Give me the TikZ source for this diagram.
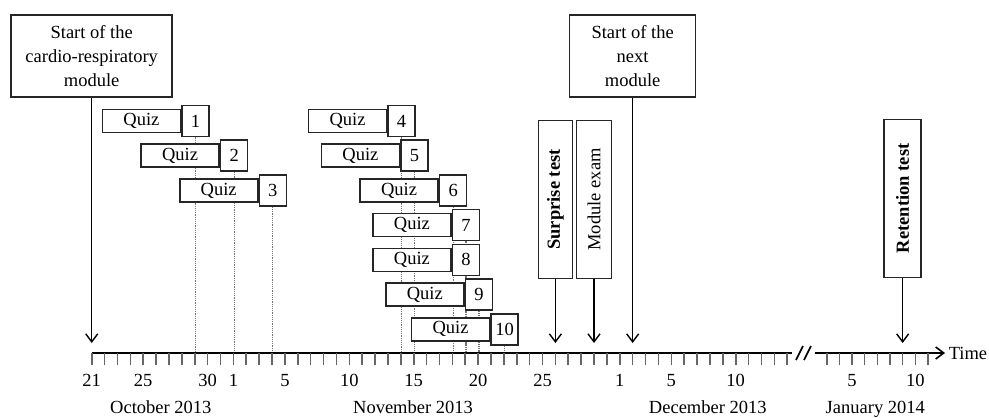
\documentclass[tikz,border=0pt]{standalone}
\usepackage{fontspec}
\setmainfont{Liberation Serif}
\usetikzlibrary{arrows.meta,backgrounds,positioning}
\def\dayx#1{(91.7+12.88*(#1))}
\def\janx#1{(826.7+12.66*(#1-3))}
\tikzset{
	axisline/.style={line width=1.6pt, color=black},
	tickline/.style={line width=1.6pt, color=black!60},
	quizline/.style={line width=1.2pt, color=black!55, densely dotted},
	eventarrow/.style={line width=1.4pt, -{Straight Barb[length=8pt,width=12pt]}},
	bigbox/.style={draw=black!85, line width=1.6pt, fill=white, align=center, inner sep=0pt, minimum height=82pt, font=\fontsize{18.5}{24}\selectfont},
	testbox/.style={draw=black!85, line width=1.6pt, fill=white, rotate=90, inner sep=0pt, minimum width=158pt, minimum height=34pt},
	quizbox/.style={draw=black!85, line width=1.6pt, fill=white, inner sep=0pt, minimum width=78pt, minimum height=23pt, font=\fontsize{18.5}{22}\selectfont},
	numbox/.style={draw=black!85, line width=1.6pt, fill=white, inner sep=0pt, minimum width=27pt, minimum height=31pt, font=\fontsize{18.5}{22}\selectfont},
	daylabel/.style={anchor=base, inner sep=0pt, font=\fontsize{18.5}{22}\selectfont},
}
\begin{document}
\begin{tikzpicture}[x=1pt, y=-1pt]
		%%%%% START %%%%%
		\useasboundingbox (0,0) rectangle (989,418);
		
		% time axis
		\coordinate (axis) at (91.7,353);
		\coordinate (tip) at (91.7,343);
		\draw[axisline] (axis) -- (791.7,353);
		\foreach \d in {0,...,54} \draw[tickline] ({\dayx{\d}},353) -- ++(0,12);
		\draw[axisline] (796,360) -- (803,346);
		\draw[axisline] (804,360) -- (811,346);
		\draw[axisline, -{Straight Barb[length=8pt,width=12pt]}] (815,353) -- (945,353) node[right=3pt, inner sep=0pt, font=\fontsize{18.5}{22}\selectfont] (time) {Time};
		\foreach \d in {3,...,11} \draw[tickline] ({\janx{\d}},353) -- ++(0,12);
		
		\foreach \d/\t in {0/21,4/25,9/30,11/1,15/5,20/10,25/15,30/20,35/25,41/1,45/5,50/10}
			\node[daylabel] (day\d) at ({\dayx{\d}},386.5) {\t};
		\node[daylabel] (jan5) at ({\janx{5}},386.5) {5};
		\node[daylabel] (jan10) at ({\janx{10}},386.5) {10};
		
		\node[daylabel] (oct) at (160.8,413) {October 2013};
		\node[daylabel] (nov) at (413,413) {November 2013};
		\node[daylabel] (dec) at (707.8,413) {December 2013};
		\node[daylabel] (jan) at (875.3,413) {January 2014};
		
		% quizzes
		\foreach \n/\d/\r in {1/8/1,2/11/2,3/14/3,4/24/1,5/25/2,6/28/3,7/29/4,8/29/5,9/30/6,10/32/7} {
			\node[quizbox, anchor=east] (quiz\n) at ({\dayx{\d}-13.5},{121+34.7*(\r-1)}) {Quiz};
			\node[numbox, right=0pt of quiz\n.east, anchor=west] (q\n) {\n};
		}
		\begin{scope}[on background layer]
			\foreach \n in {1,...,10} \draw[quizline] (q\n.south) -- (q\n.south |- axis);
		\end{scope}
		
		% events
		\node[bigbox, minimum width=161pt] (cardio) at ({\dayx{0}},55.8) {Start of the\\cardio-respiratory\\module};
		\node[bigbox, minimum width=126pt] (next) at ({\dayx{42}},55.8) {Start of the\\next\\module};
		\node[testbox, font=\fontsize{18.5}{22}\selectfont\bfseries] (surprise) at ({\dayx{36}},199.5) {Surprise test};
		\node[testbox, minimum height=35pt, font=\fontsize{18.5}{22}\selectfont] (exam) at ({\dayx{39}},199.5) {Module exam};
		\node[testbox, minimum height=37pt, font=\fontsize{18.5}{22}\selectfont\bfseries] (retention) at ({\janx{9}},198.3) {Retention test};
		
		\draw[eventarrow] (cardio.south) -- (cardio.south |- tip);
		\draw[eventarrow] (next.south) -- (next.south |- tip);
		\draw[eventarrow] (surprise.west) -- (surprise.west |- tip);
		\draw[eventarrow] (exam.west) -- (exam.west |- tip);
		\draw[eventarrow] (retention.west) -- (retention.west |- tip);
		
		%%%%% END %%%%%
\end{tikzpicture}
\end{document}
